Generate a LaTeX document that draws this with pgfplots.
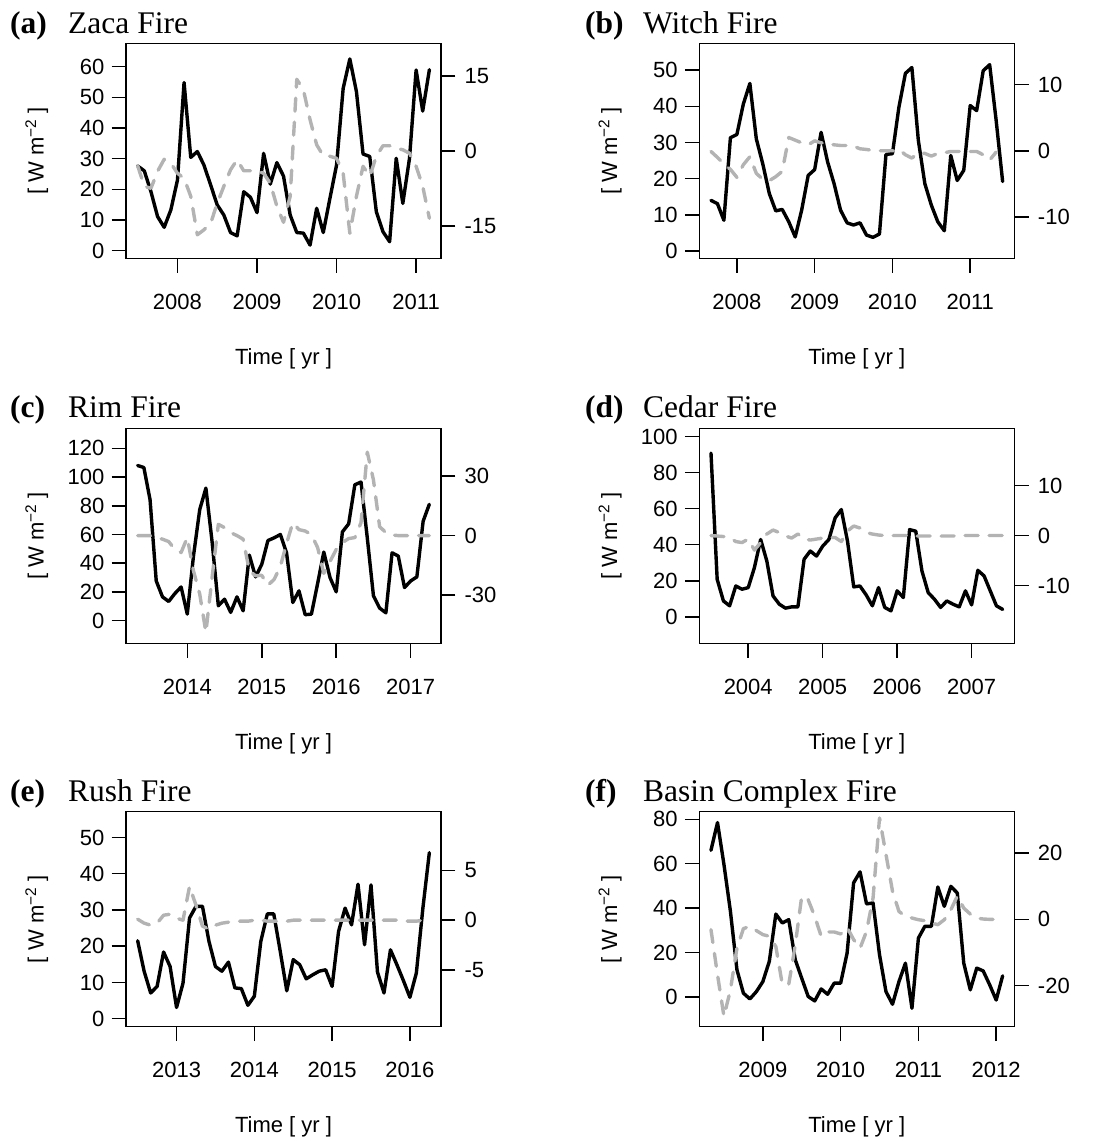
\documentclass[border=0pt]{standalone}
\usepackage{fontspec}
\setmainfont{Liberation Serif}
\newfontfamily\lsans{Liberation Sans}
\usepackage{pgfplots}
\usepackage{pgfplotstable}
\pgfplotsset{compat=1.18}
\definecolor{greyline}{HTML}{B3B3B3}

\pgfplotsset{
  base/.style={
    scale only axis, width=315pt, height=215pt, anchor=south west,
    tick align=outside, major tick length=14.5pt,
    tick style={line width=1.5pt, black},
    axis line style={line width=1.5pt},
    tick label style={font=\lsans\fontsize{22}{26}\selectfont, inner sep=0pt},
    xticklabel style={yshift=-21pt},
  },
  leftax/.style={base, xtick pos=left, ytick pos=left,
    yticklabel style={xshift=-7pt},
    every axis x label/.style={at={(axis description cs:0.5,0)}, anchor=base, yshift=-106pt, font=\lsans\fontsize{22}{26}\selectfont},
    every axis y label/.style={at={(axis description cs:-0.283,0.5)}, rotate=90, anchor=center, font=\lsans\fontsize{22}{26}\selectfont},
    xlabel={Time [ yr ]}, ylabel={[ W m\textsuperscript{−2} ]},
  },
  rightax/.style={base, xtick=\empty, ytick pos=right, yticklabel pos=right, axis line style={draw=none},
    yticklabel style={xshift=9pt}},
  blk/.style={black, line width=3.4pt, line join=round, line cap=round},
  gry/.style={greyline, line width=3.4pt, dash pattern=on 13pt off 11pt, line cap=round, line join=round},
}

\pgfplotstableread{
x P G
2007.500 27.6 -3.0
2007.583 26.0 -7.1
2007.667 19.2 -7.5
2007.750 11.1 -4.1
2007.833 7.6 -1.7
2007.917 13.3 -2.5
2008.000 23.0 -4.5
2008.083 54.8 -5.5
2008.167 30.4 -9.1
2008.250 32.3 -16.8
2008.333 27.9 -15.8
2008.417 21.4 -14.5
2008.500 14.9 -10.5
2008.583 11.6 -7.1
2008.667 5.9 -3.8
2008.750 4.8 -1.8
2008.833 19.2 -4.0
2008.917 17.4 -4.0
2009.000 12.4 -4.0
2009.083 31.7 -4.5
2009.167 21.7 -6.5
2009.250 28.7 -11.1
2009.333 24.3 -14.3
2009.417 11.6 -9.1
2009.500 5.9 14.3
2009.583 5.7 12.2
2009.667 1.8 6.2
2009.750 13.8 1.2
2009.833 5.9 -1.0
2009.917 17.1 -1.1
2010.000 27.9 -1.5
2010.083 52.9 -4.5
2010.167 62.5 -16.5
2010.250 51.8 -9.1
2010.333 31.5 -3.1
2010.417 30.7 -5.1
2010.500 12.7 -1.1
2010.583 6.2 1.0
2010.667 2.9 1.0
2010.750 30.1 0.5
2010.833 15.4 0.2
2010.917 30.1 -0.5
2011.000 58.9 -3.1
2011.083 45.5 -7.1
2011.167 59.0 -13.5
}\tabA

\pgfplotstableread{
x P G
2007.667 14.0 -0.1
2007.750 13.1 -1.0
2007.833 8.5 -2.0
2007.917 31.3 -2.8
2008.000 32.2 -4.0
2008.083 40.6 -2.1
2008.167 46.3 -0.9
2008.250 31.0 -3.4
2008.333 24.1 -4.3
2008.417 15.9 -4.5
2008.500 11.1 -3.9
2008.583 11.5 -3.1
2008.667 8.1 2.0
2008.750 3.9 1.6
2008.833 11.3 1.2
2008.917 20.9 0.9
2009.000 22.5 1.5
2009.083 32.8 1.2
2009.167 24.6 1.1
2009.250 18.6 0.9
2009.333 11.3 0.8
2009.417 7.8 0.8
2009.500 7.2 0.7
2009.583 7.8 0.3
2009.667 4.4 0.2
2009.750 3.8 0.05
2009.833 4.7 0.0
2009.917 26.7 0.0
2010.000 26.9 0.0
2010.083 39.7 0.2
2010.167 49.1 -0.6
2010.250 50.7 -1.1
2010.333 30.6 -0.3
2010.417 18.6 -0.4
2010.500 12.7 -0.8
2010.583 8.1 -0.4
2010.667 5.6 -0.3
2010.750 26.4 -0.1
2010.833 19.5 -0.1
2010.917 22.3 -0.1
2011.000 40.2 -0.1
2011.083 38.8 -0.1
2011.167 49.8 -0.6
2011.250 51.5 -1.4
2011.333 36.2 -0.2
2011.417 19.2 nan
}\tabB

\pgfplotstableread{
x P G
2013.333 108.0 0.0
2013.417 106.6 0.0
2013.500 84.2 0.0
2013.583 27.7 -1.0
2013.667 16.6 -1.8
2013.750 13.4 -3.0
2013.833 18.9 -6.9
2013.917 23.5 -8.5
2014.000 4.6 -1.0
2014.083 45.0 -17.7
2014.167 77.3 -29.4
2014.250 92.3 -48.7
2014.333 55.0 -21.0
2014.417 10.4 5.7
2014.500 15.0 4.0
2014.583 5.8 1.5
2014.667 16.6 0.0
2014.750 6.9 -1.8
2014.833 45.7 -17.7
2014.917 30.5 -20.2
2015.000 39.2 -20.0
2015.083 55.8 -25.0
2015.167 57.7 -22.0
2015.250 60.0 -15.5
2015.333 47.3 -4.0
2015.417 12.7 6.5
2015.500 20.8 3.0
2015.583 4.2 2.3
2015.667 4.6 0.5
2015.750 25.8 -6.0
2015.833 47.8 -19.0
2015.917 30.0 -13.0
2016.000 20.1 -7.0
2016.083 61.8 -3.5
2016.167 67.4 -1.5
2016.250 94.6 -1.0
2016.333 96.5 6.5
2016.417 57.7 42.0
2016.500 17.3 28.0
2016.583 8.8 4.5
2016.667 5.5 1.5
2016.750 47.3 0.3
2016.833 45.0 0.0
2016.917 23.1 0.0
2017.000 27.7 0.0
2017.083 30.5 0.0
2017.167 69.2 0.0
2017.250 81.0 0.0
}\tabC

\pgfplotstableread{
x P G
2003.500 90.8 0.0
2003.583 20.8 -0.1
2003.667 8.8 -0.2
2003.750 6.1 -0.4
2003.833 17.1 -1.2
2003.917 15.3 -1.4
2004.000 16.2 -0.7
2004.083 27.3 -2.9
2004.167 42.9 -1.4
2004.250 30.9 0.3
2004.333 11.6 1.1
2004.417 7.0 0.6
2004.500 4.8 -0.1
2004.583 5.5 -0.5
2004.667 5.5 0.3
2004.750 31.9 -0.7
2004.833 36.5 -0.9
2004.917 33.7 -0.7
2005.000 39.2 -0.5
2005.083 42.9 -0.4
2005.167 54.9 -0.4
2005.250 59.5 -1.2
2005.333 42.0 0.9
2005.417 16.6 1.9
2005.500 17.1 1.5
2005.583 12.2 0.6
2005.667 6.1 0.3
2005.750 16.2 0.1
2005.833 5.2 0.0
2005.917 3.3 0.0
2006.000 14.4 0.0
2006.083 10.7 0.0
2006.167 48.4 0.0
2006.250 47.5 -0.1
2006.333 25.4 -0.1
2006.417 13.4 -0.1
2006.500 9.8 -0.1
2006.583 5.2 -0.1
2006.667 8.8 -0.1
2006.750 7.0 -0.1
2006.833 5.5 0.0
2006.917 14.4 0.0
2007.000 6.6 0.0
2007.083 25.8 0.0
2007.167 22.7 0.0
2007.250 14.4 0.0
2007.333 6.1 0.0
2007.417 4.1 0.0
}\tabD

\pgfplotstableread{
x P G
2012.500 21.5 0.1
2012.583 13.1 -0.3
2012.667 7.1 -0.5
2012.750 8.9 -0.3
2012.833 18.4 0.5
2012.917 14.4 0.6
2013.000 3.1 0.2
2013.083 9.8 0.0
2013.167 27.8 3.4
2013.250 31.0 1.5
2013.333 31.0 -0.6
2013.417 21.3 -0.9
2013.500 14.4 -0.5
2013.583 13.1 -0.3
2013.667 15.6 -0.2
2013.750 8.5 -0.1
2013.833 8.3 -0.1
2013.917 3.7 -0.1
2014.000 6.2 0.0
2014.083 21.3 0.0
2014.167 28.9 -0.1
2014.250 28.9 -0.1
2014.333 18.6 -0.1
2014.417 7.7 -0.1
2014.500 16.3 0.0
2014.583 14.9 0.0
2014.667 11.0 0.0
2014.750 12.1 0.0
2014.833 13.1 0.0
2014.917 13.5 0.0
2015.000 8.9 0.0
2015.083 24.1 0.0
2015.167 30.5 0.0
2015.250 25.9 0.0
2015.333 37.1 0.0
2015.417 20.4 0.0
2015.500 36.9 0.0
2015.583 12.9 0.0
2015.667 7.1 0.0
2015.750 19.0 0.0
2015.833 14.9 0.0
2015.917 10.5 -0.1
2016.000 5.9 -0.1
2016.083 12.6 -0.1
2016.167 30.5 0.0
2016.250 45.8 0.0
}\tabE

\pgfplotstableread{
x P G
2008.333 66.0 -3.1
2008.417 78.5 -16.7
2008.500 59.6 -29.3
2008.583 38.6 -21.3
2008.667 12.2 -8.7
2008.750 1.7 -2.8
2008.833 -0.9 -2.1
2008.917 2.4 -3.4
2009.000 6.9 -4.6
2009.083 16.0 -5.1
2009.167 37.3 -8.2
2009.250 33.3 -19.6
2009.333 34.8 -19.6
2009.417 16.7 -7.7
2009.500 8.4 7.0
2009.583 0.2 5.9
2009.667 -1.8 0.9
2009.750 3.6 -5.1
2009.833 1.2 -3.8
2009.917 6.2 -3.8
2010.000 6.2 -4.4
2010.083 19.7 -2.4
2010.167 51.4 -6.1
2010.250 56.3 -8.7
2010.333 41.9 -3.6
2010.417 42.3 6.5
2010.500 19.0 30.6
2010.583 2.4 19.6
2010.667 -3.3 8.5
2010.750 6.9 2.4
2010.833 15.2 0.9
2010.917 -5.1 0.4
2011.000 26.5 -0.1
2011.083 31.8 -0.4
2011.167 31.8 -1.1
2011.250 49.5 -1.6
2011.333 40.8 -0.1
2011.417 49.8 2.9
2011.500 46.8 7.0
2011.583 15.2 3.4
2011.667 3.2 1.6
2011.750 13.0 0.4
2011.833 11.7 0.1
2011.917 5.4 0.0
2012.000 -1.4 0.0
2012.083 9.5 0.0
}\tabF

\begin{document}
\begin{tikzpicture}
\path[use as bounding box] (0,0) rectangle (1102pt,1141pt);

% ---------- titles ----------
\tikzset{ttl/.style={anchor=base west, inner sep=0pt, font=\fontsize{31.5}{34}\selectfont},
         ttlb/.style={anchor=base west, inner sep=0pt, font=\fontsize{31.5}{34}\selectfont\bfseries}}
\node[ttlb] at (10pt,1107pt) {(a)};
\node[ttl] at (68pt,1107pt) {Zaca Fire};
\node[ttlb] at (585pt,1107pt) {(b)};
\node[ttl] at (643pt,1107pt) {Witch Fire};
\node[ttlb] at (10pt,723pt) {(c)};
\node[ttl] at (68pt,723pt) {Rim Fire};
\node[ttlb] at (585pt,723pt) {(d)};
\node[ttl] at (643pt,723pt) {Cedar Fire};
\node[ttlb] at (10pt,339.5pt) {(e)};
\node[ttl] at (68pt,339.5pt) {Rush Fire};
\node[ttlb] at (585pt,339.5pt) {(f)};
\node[ttl] at (643pt,339.5pt) {Basin Complex Fire};

% ---------- (a) ----------
\begin{axis}[leftax, at={(126pt,882.7pt)}, xmin=2007.353, xmax=2011.313, ymin=-2.5, ymax=67.6,
  xtick={2008,2009,2010,2011}, xticklabels={2008,2009,2010,2011},
  ytick={0,10,20,30,40,50,60}, yticklabels={0,10,20,30,40,50,60}]
\addplot[blk] table[x=x,y=P] {\tabA};
\end{axis}
\begin{axis}[rightax, at={(126pt,882.7pt)}, xmin=2007.353, xmax=2011.313, ymin=-21.5, ymax=21.5,
  ytick={-15,0,15}, yticklabels={-15,0,15}]
\addplot[gry] table[x=x,y=G] {\tabA};
\end{axis}

% ---------- (b) ----------
\begin{axis}[leftax, at={(699.3pt,882.7pt)}, xmin=2007.517, xmax=2011.567, ymin=-2.0, ymax=57.4,
  xtick={2008,2009,2010,2011}, xticklabels={2008,2009,2010,2011},
  ytick={0,10,20,30,40,50}, yticklabels={0,10,20,30,40,50}]
\addplot[blk] table[x=x,y=P] {\tabB};
\end{axis}
\begin{axis}[rightax, at={(699.3pt,882.7pt)}, xmin=2007.517, xmax=2011.567, ymin=-16.2, ymax=16.2,
  ytick={-10,0,10}, yticklabels={-10,0,10}]
\addplot[gry] table[x=x,y=G] {\tabB};
\end{axis}

% ---------- (c) ----------
\begin{axis}[leftax, at={(126pt,497.7pt)}, xmin=2013.177, xmax=2017.407, ymin=-15.7, ymax=133.9,
  xtick={2014,2015,2016,2017}, xticklabels={2014,2015,2016,2017},
  ytick={0,20,40,60,80,100,120}, yticklabels={0,20,40,60,80,100,120}]
\addplot[blk] table[x=x,y=P] {\tabC};
\end{axis}
\begin{axis}[rightax, at={(126pt,497.7pt)}, xmin=2013.177, xmax=2017.407, ymin=-54.2, ymax=54.0,
  ytick={-30,0,30}, yticklabels={-30,0,30}]
\addplot[gry] table[x=x,y=G] {\tabC};
\end{axis}

% ---------- (d) ----------
\begin{axis}[leftax, at={(699.3pt,497.7pt)}, xmin=2003.343, xmax=2007.573, ymin=-14.7, ymax=104.6,
  xtick={2004,2005,2006,2007}, xticklabels={2004,2005,2006,2007},
  ytick={0,20,40,60,80,100}, yticklabels={0,20,40,60,80,100}]
\addplot[blk] table[x=x,y=P] {\tabD};
\end{axis}
\begin{axis}[rightax, at={(699.3pt,497.7pt)}, xmin=2003.343, xmax=2007.573, ymin=-21.5, ymax=21.4,
  ytick={-10,0,10}, yticklabels={-10,0,10}]
\addplot[gry] table[x=x,y=G] {\tabD};
\end{axis}

% ---------- (e) ----------
\begin{axis}[leftax, at={(126pt,114.3pt)}, xmin=2012.35, xmax=2016.40, ymin=-2.2, ymax=57.1,
  xtick={2013,2014,2015,2016}, xticklabels={2013,2014,2015,2016},
  ytick={0,10,20,30,40,50}, yticklabels={0,10,20,30,40,50}]
\addplot[blk] table[x=x,y=P] {\tabE};
\end{axis}
\begin{axis}[rightax, at={(126pt,114.3pt)}, xmin=2012.35, xmax=2016.40, ymin=-10.7, ymax=10.9,
  ytick={-5,0,5}, yticklabels={-5,0,5}]
\addplot[gry] table[x=x,y=G] {\tabE};
\end{axis}

% ---------- (f) ----------
\begin{axis}[leftax, at={(699.3pt,114.3pt)}, xmin=2008.183, xmax=2012.233, ymin=-13.4, ymax=83.4,
  xtick={2009,2010,2011,2012}, xticklabels={2009,2010,2011,2012},
  ytick={0,20,40,60,80}, yticklabels={0,20,40,60,80}]
\addplot[blk] table[x=x,y=P] {\tabF};
\end{axis}
\begin{axis}[rightax, at={(699.3pt,114.3pt)}, xmin=2008.183, xmax=2012.233, ymin=-32.4, ymax=32.5,
  ytick={-20,0,20}, yticklabels={-20,0,20}]
\addplot[gry] table[x=x,y=G] {\tabF};
\end{axis}
\end{tikzpicture}
\end{document}
